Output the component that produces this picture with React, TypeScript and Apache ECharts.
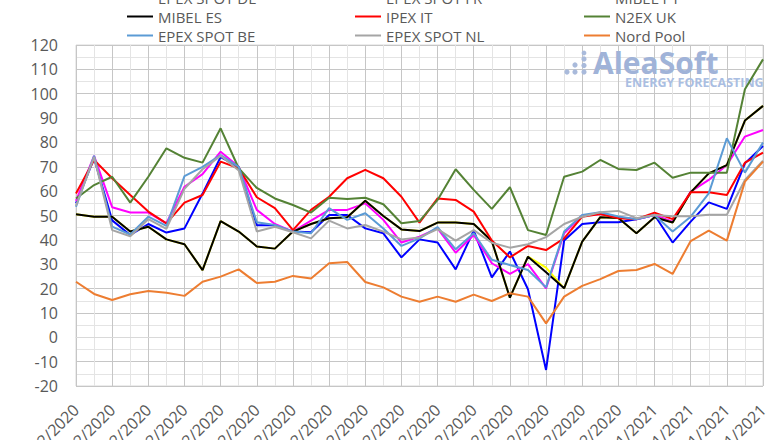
import React, { useEffect, useRef } from "react";
import * as echarts from "echarts";

const categories = [
  "01/12/2020", "02/12/2020", "03/12/2020", "04/12/2020", "05/12/2020", "06/12/2020", "07/12/2020",
  "08/12/2020", "09/12/2020", "10/12/2020", "11/12/2020", "12/12/2020", "13/12/2020", "14/12/2020",
  "15/12/2020", "16/12/2020", "17/12/2020", "18/12/2020", "19/12/2020", "20/12/2020", "21/12/2020",
  "22/12/2020", "23/12/2020", "24/12/2020", "25/12/2020", "26/12/2020", "27/12/2020", "28/12/2020",
  "29/12/2020", "30/12/2020", "31/12/2020", "01/01/2021", "02/01/2021", "03/01/2021", "04/01/2021",
  "05/01/2021", "06/01/2021", "07/01/2021", "08/01/2021",
];

const epexDE = [55, 73.5, 48, 42, 46.5, 43, 44.7, 59, 74, 70, 46, 46, 43.4, 43.1, 50.2, 50.2, 44.7, 42.7, 32.8, 40.2, 38.9, 27.9, 43.8, 24.6, 35.2, 19.7, -13.4, 39.7, 46.5, 47.2, 47.2, 48.5, 50.2, 38.9, 47.5, 55.4, 52.7, 71.4, 78.5];
const epexFR = [56, 74.5, 53.4, 51.2, 51.2, 46.8, 61.8, 67, 76.2, 70, 52.3, 46.5, 43.4, 47.9, 52.3, 52.3, 55, 48.2, 38.9, 41.3, 44.7, 34.7, 42, 30.4, 26, 30, 20.1, 42.7, 50, 50.6, 49.3, 48.5, 50.2, 47.5, 59.8, 64.6, 70.7, 82.4, 85.1];
const mibelPT = [50.5, 49.5, 49.5, 43.4, 45.4, 40.2, 38.2, 27.6, 47.7, 43.4, 37.3, 36.4, 43.4, 46.5, 48.9, 49.3, 56.1, 49.8, 44.3, 43.6, 47.1, 47.1, 46.5, 39.5, 16.3, 33.1, 28.6, 20.1, 39.3, 49.3, 49, 42.7, 49.3, 47.1, 59.5, 67.3, 70.7, 89, 95];
const mibelES = [50.5, 49.5, 49.5, 43.4, 45.4, 40.2, 38.2, 27.6, 47.7, 43.4, 37.3, 36.4, 43.4, 46.5, 48.9, 49.3, 56.1, 49.8, 44.3, 43.6, 47.1, 47.1, 46.5, 39.5, 16.3, 33.1, 26.7, 20.1, 39.3, 49.3, 49, 42.7, 49.3, 47.1, 59.5, 67.3, 70.7, 89, 95];
const ipexIT = [59, 72.8, 65.3, 58.4, 51.6, 46.8, 55.3, 58.4, 72.1, 69.4, 57.5, 53, 44, 52.3, 57.7, 65.3, 68.7, 65.3, 57.7, 47.1, 57, 56.4, 51.6, 39.7, 32.8, 37.5, 35.8, 40.6, 49.5, 50.6, 48.9, 48.5, 51.2, 48.5, 59.5, 59.5, 58.4, 71.7, 75.8];
const n2exUK = [57, 62.5, 65.9, 55.3, 65.9, 77.6, 73.7, 71.7, 85.8, 69.4, 61.3, 57, 54.3, 51.2, 57.3, 56.8, 57.3, 54.6, 46.8, 47.7, 56.4, 69, 60.5, 52.7, 61.6, 44, 42, 65.9, 68, 72.8, 69.1, 68.7, 71.7, 65.5, 67.6, 67.6, 67.6, 101.8, 114.1];
const epexBE = [53.6, 74.5, 45.4, 42.2, 49.5, 45.7, 66.2, 70, 74.8, 70, 47.2, 46.1, 43.4, 42.7, 53, 48.2, 50.9, 44.7, 37.5, 40.6, 45.2, 36.1, 42.7, 31.8, 29.7, 27.6, 20.5, 43.4, 50.2, 51.3, 49.6, 48.5, 50.2, 43.4, 49.5, 59.1, 81.7, 67.6, 80];
const epexNL = [54, 74, 44, 41.5, 48.5, 44.5, 61, 69, 74.5, 68.5, 43.4, 45.4, 43.1, 40.6, 47.9, 44.7, 46.1, 43.4, 40.2, 41, 44.4, 39.7, 44, 38.8, 36.8, 38.2, 41.1, 46.5, 49.5, 51.3, 51.9, 48.9, 50.2, 49.7, 49.7, 50.3, 50.3, 64.6, 72.5];
const nordPool = [22.8, 17.8, 15.3, 17.7, 19, 18.3, 17, 22.8, 24.9, 27.9, 22.3, 22.8, 25.2, 24.1, 30.4, 30.9, 22.7, 20.5, 16.7, 14.6, 16.7, 14.6, 17.5, 14.9, 18.1, 16.7, 5.7, 16.7, 21.1, 23.9, 27.2, 27.6, 30.1, 26, 39.5, 43.8, 39.7, 63.9, 72.1];

const seriesNames = ["EPEX SPOT DE", "EPEX SPOT FR", "MIBEL PT", "MIBEL ES", "IPEX IT", "N2EX UK", "EPEX SPOT BE", "EPEX SPOT NL", "Nord Pool"];
const seriesData = [epexDE, epexFR, mibelPT, mibelES, ipexIT, n2exUK, epexBE, epexNL, nordPool];
const seriesColors = ["#0000FF", "#FF00FF", "#FFFF00", "#000000", "#FF0000", "#548235", "#5B9BD5", "#A5A5A5", "#ED7D31"];

const legendColumns = [
  ["EPEX SPOT DE", "MIBEL ES", "EPEX SPOT BE"],
  ["EPEX SPOT FR", "IPEX IT", "EPEX SPOT NL"],
  ["MIBEL PT", "N2EX UK", "Nord Pool"],
];

const FONT = "'Open Sans', 'Noto Sans', sans-serif";
const TEXT = "#595959";

export default function App() {
  const ref = useRef<HTMLDivElement>(null);
  useEffect(() => {
    document.body.style.margin = "0";
    if (!ref.current) return;
    const chart = echarts.init(ref.current, undefined, { renderer: "svg" });
    const legendLefts = [127, 355, 584];
    const option: any = {
      animation: false,
      backgroundColor: "#ffffff",
      textStyle: { fontFamily: FONT },
      legend: legendColumns.map((col, i) => ({
        data: col,
        orient: "vertical",
        left: legendLefts[i],
        top: -12,
        padding: 0,
        itemGap: 0,
        itemWidth: 26,
        itemHeight: 2,
        icon: "rect",
        selectedMode: false,
        textStyle: { fontFamily: FONT, fontSize: 15, color: TEXT, lineHeight: 19 },
      })),
      grid: {
        left: 76,
        right: 17,
        top: 45,
        bottom: 54,
        containLabel: false,
        outerBoundsMode: "none",
        show: true,
        borderColor: "#D9D9D9",
        borderWidth: 1,
      },
      graphic: [
        { type: "circle", z: 1, shape: { cx: 567, cy: 72, r: 2.6 }, style: { fill: "#A9BADB" } },
        { type: "circle", z: 1, shape: { cx: 575, cy: 72, r: 2.6 }, style: { fill: "#A9BADB" } },
        { type: "circle", z: 1, shape: { cx: 575, cy: 65, r: 2.6 }, style: { fill: "#A9BADB" } },
        { type: "circle", z: 1, shape: { cx: 584, cy: 72, r: 2.6 }, style: { fill: "#A9BADB" } },
        { type: "circle", z: 1, shape: { cx: 584, cy: 65.5, r: 2.6 }, style: { fill: "#A9BADB" } },
        { type: "circle", z: 1, shape: { cx: 584, cy: 59, r: 2.6 }, style: { fill: "#A9BADB" } },
        { type: "circle", z: 1, shape: { cx: 584, cy: 53, r: 2.4 }, style: { fill: "#A9BADB" } },
        {
          type: "text", z: 1, left: 593, top: 47,
          style: { text: "AleaSoft", fill: "#A0B3D8", font: "bold 30px 'Open Sans', sans-serif", lineHeight: 28 },
        },
        {
          type: "text", z: 1, left: 625, top: 76,
          style: { text: "ENERGY FORECASTING", fill: "#AABEE2", font: "bold 12.5px 'Open Sans', sans-serif", lineHeight: 12 },
        },
      ],
      xAxis: [
        {
          type: "category",
          data: categories,
          boundaryGap: false,
          axisLine: { show: true, lineStyle: { color: "#D9D9D9" } },
          axisTick: { show: false },
          axisLabel: {
            rotate: 45,
            interval: 1,
            fontSize: 16,
            color: TEXT,
            fontFamily: FONT,
            margin: 21,
          },
          splitLine: {
            show: true,
            interval: (i: number) => i % 2 === 0,
            lineStyle: { color: "#C6C6C6", width: 1 },
          },
        },
        {
          type: "category",
          data: categories,
          boundaryGap: false,
          position: "bottom",
          axisLine: { show: false },
          axisTick: { show: false },
          axisLabel: { show: false },
          splitLine: {
            show: true,
            interval: (i: number) => i % 2 === 1,
            lineStyle: { color: "#E4E4E4", width: 1 },
          },
        },
      ],
      yAxis: {
        type: "value",
        min: -20,
        max: 120,
        interval: 10,
        axisLine: { show: false },
        axisTick: { show: false },
        axisLabel: { fontSize: 16, color: TEXT, fontFamily: FONT, margin: 18 },
        splitLine: { show: true, lineStyle: { color: "#C6C6C6", width: 1 } },
        minorTick: { show: false, splitNumber: 2 },
        minorSplitLine: { show: true, lineStyle: { color: "#E4E4E4", width: 1 } },
      },
      series: seriesNames.map((name, i) => ({
        name,
        type: "line",
        xAxisIndex: 0,
        data: seriesData[i],
        showSymbol: false,
        symbol: "none",
        color: seriesColors[i],
        itemStyle: { color: seriesColors[i] },
        lineStyle: { color: seriesColors[i], width: 2 },
        z: 3,
      })),
    };
    chart.setOption(option);
    return () => chart.dispose();
  }, []);
  return (
    <div
      ref={ref}
      style={{ position: "absolute", left: 0, top: 0, width: 780, height: 440 }}
    />
  );
}
